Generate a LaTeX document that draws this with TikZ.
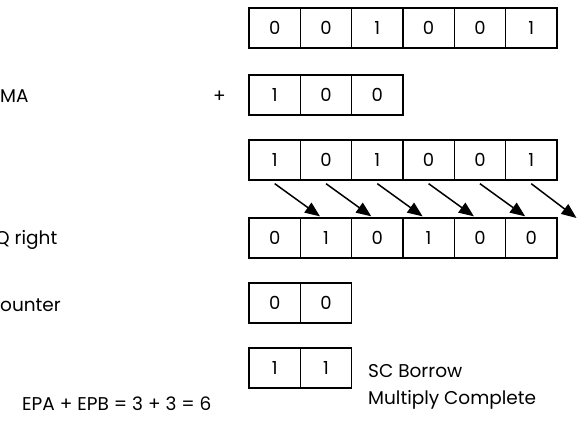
\documentclass[tikz,border=0pt]{standalone}
\usepackage{fontspec}
\setmainfont{Poppins}
\usetikzlibrary{arrows.meta,positioning}

\tikzset{
  bit/.style={draw,line width=1.3pt,minimum width=51.3pt,minimum height=40pt,inner sep=0pt,font=\fontsize{18}{22}\selectfont},
  lbl/.style={anchor=west,inner sep=0pt,font=\fontsize{18.5}{22}\selectfont},
  shiftarrow/.style={line width=1.5pt,-{Triangle[length=15pt,width=12pt]}}
}

\begin{document}
\begin{tikzpicture}[x=1pt,y=-1pt]
\useasboundingbox (0,0) rectangle (582,421);
% multiplicand
\node[bit] (a1) at (274.7,28) {0};
\node[bit] (a2) at (326.0,28) {0};
\node[bit] (a3) at (377.3,28) {1};
\node[bit] (a4) at (428.6,28) {0};
\node[bit] (a5) at (479.9,28) {0};
\node[bit] (a6) at (531.2,28) {1};
% MA
\node[lbl] (ma) at (0,96) {MA};
\node[lbl] (plus) at (213,97) {+};
\node[bit] (m1) at (274.7,95) {1};
\node[bit] (m2) at (326.0,95) {0};
\node[bit] (m3) at (377.3,95) {0};
% sum
\node[bit] (s1) at (274.7,160) {1};
\node[bit] (s2) at (326.0,160) {0};
\node[bit] (s3) at (377.3,160) {1};
\node[bit] (s4) at (428.6,160) {0};
\node[bit] (s5) at (479.9,160) {0};
\node[bit] (s6) at (531.2,160) {1};
% shifted
\node[lbl] (qr) at (-5,240) {Q right};
\node[bit] (q1) at (274.7,238) {0};
\node[bit] (q2) at (326.0,238) {1};
\node[bit] (q3) at (377.3,238) {0};
\node[bit] (q4) at (428.6,238) {1};
\node[bit] (q5) at (479.9,238) {0};
\node[bit] (q6) at (531.2,238) {0};
\coordinate (q7) at (582.5,218);
\draw[shiftarrow] ([yshift=-3pt]s1.south) -- ([xshift=-6pt,yshift=1pt]q2.north);
\draw[shiftarrow] ([yshift=-3pt]s2.south) -- ([xshift=-6pt,yshift=1pt]q3.north);
\draw[shiftarrow] ([yshift=-3pt]s3.south) -- ([xshift=-6pt,yshift=1pt]q4.north);
\draw[shiftarrow] ([yshift=-3pt]s4.south) -- ([xshift=-6pt,yshift=1pt]q5.north);
\draw[shiftarrow] ([yshift=-3pt]s5.south) -- ([xshift=-6pt,yshift=1pt]q6.north);
\draw[shiftarrow] ([yshift=-3pt]s6.south) -- ([xshift=-6pt]q7);
% counter
\node[lbl] (cnt) at (0,305) {ounter};
\node[bit] (c1) at (274.7,303) {0};
\node[bit] (c2) at (326.0,303) {0};
% borrow
\node[bit] (b1) at (274.7,368) {1};
\node[bit] (b2) at (326.0,368) {1};
\node[lbl] (sc) at (368,371) {SC Borrow};
\node[lbl] (ep) at (22,404) {EPA + EPB = 3 + 3 = 6};
\node[lbl] (done) at (368,400) {Multiply Complete};
\end{tikzpicture}
\end{document}
